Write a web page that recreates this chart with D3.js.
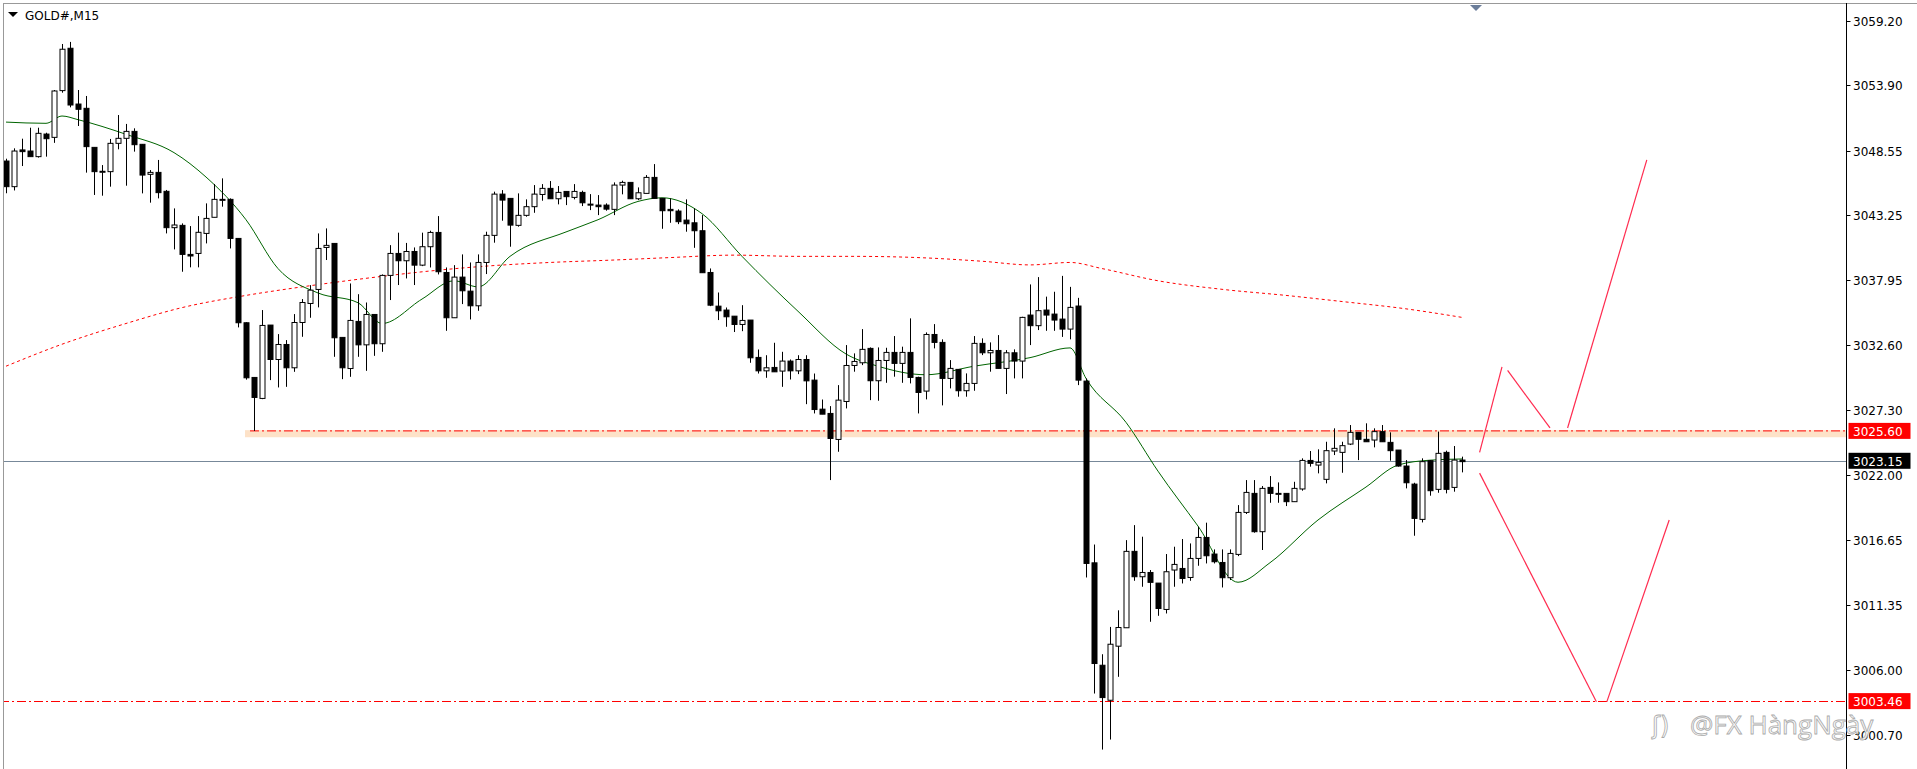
<!DOCTYPE html>
<html><head><meta charset="utf-8">
<script src="https://cdn.jsdelivr.net/npm/d3@7"></script>
<style>html,body{margin:0;padding:0;background:#fff;overflow:hidden}</style>
</head><body><svg id="c" width="1917" height="769"></svg>
<script>
const opens=[3047.71,3045.61,3048.62,3048.53,3048.07,3049.92,3049.65,3053.48,3056.95,3052.38,3052.03,3048.83,3046.87,3046.84,3049.16,3049.57,3050.14,3049.08,3046.62,3046.78,3045.23,3042.25,3042.44,3040.06,3040.14,3041.78,3043.1,3044.57,3044.57,3041.37,3034.46,3029.98,3028.26,3034.27,3031.45,3032.68,3030.77,3034.48,3036.04,3037.19,3040.63,3040.96,3033.26,3030.71,3034.57,3032.65,3035.14,3032.74,3038.34,3040.14,3039.54,3040.3,3039.18,3040.69,3041.86,3038.58,3034.87,3038.2,3037.05,3035.85,3039.4,3041.62,3045.0,3044.65,3042.44,3043.26,3043.97,3044.97,3045.47,3044.62,3045.22,3044.73,3045.14,3044.18,3044.1,3044.1,3043.75,3045.74,3045.96,3044.62,3045.06,3046.37,3044.65,3043.75,3043.61,3042.87,3042.65,3042.0,3038.58,3035.82,3035.5,3035.0,3034.32,3034.68,3031.62,3030.52,3030.8,3030.5,3031.32,3030.52,3031.45,3029.76,3027.38,3027.03,3024.9,3028.01,3030.96,3031.18,3032.36,3029.71,3031.37,3032.03,3031.13,3032.03,3029.98,3028.86,3033.5,3032.85,3029.9,3030.64,3028.89,3029.49,3032.77,3032.0,3032.19,3030.72,3032.0,3031.32,3035.09,3034.22,3035.5,3035.17,3034.76,3033.94,3035.83,3029.68,3014.79,3006.4,3003.53,3007.96,3009.47,3015.73,3013.65,3014.0,3013.13,3010.97,3014.2,3014.33,3013.59,3015.15,3016.87,3015.51,3014.82,3013.57,3015.48,3018.92,3020.48,3017.34,3020.97,3020.48,3020.48,3019.8,3020.84,3023.18,3022.8,3021.63,3023.95,3023.84,3024.52,3025.48,3024.91,3024.85,3025.54,3024.66,3024.03,3022.72,3021.24,3018.35,3023.16,3020.81,3023.84,3020.97,3023.21];
const highs=[3047.9,3048.75,3049.54,3050.44,3050.44,3050.03,3053.53,3057.3,3057.47,3053.53,3053.04,3048.83,3047.38,3049.52,3051.48,3050.75,3050.39,3049.08,3046.97,3047.8,3045.34,3043.83,3042.6,3042.38,3043.2,3044.24,3045.83,3046.29,3044.65,3041.37,3034.5,3030.0,3035.5,3034.27,3033.53,3033.04,3035.17,3036.4,3037.54,3041.78,3042.19,3040.96,3033.26,3037.68,3036.8,3036.12,3035.14,3038.42,3040.82,3041.84,3041.0,3040.63,3041.84,3042.0,3043.2,3038.99,3039.18,3040.06,3039.4,3040.06,3041.92,3045.2,3045.33,3044.65,3045.06,3044.57,3045.74,3045.82,3046.07,3045.66,3045.22,3045.82,3045.28,3045.0,3044.92,3044.24,3045.96,3046.1,3045.96,3045.55,3046.56,3047.46,3044.65,3044.65,3043.75,3044.57,3043.83,3043.28,3038.91,3036.94,3035.71,3035.0,3035.9,3034.68,3032.27,3031.8,3032.82,3032.08,3031.45,3031.8,3031.8,3030.3,3028.17,3027.63,3029.35,3032.63,3031.95,3033.94,3032.44,3032.44,3032.41,3033.37,3032.5,3034.82,3030.04,3033.67,3034.35,3033.1,3031.4,3030.64,3030.31,3033.37,3033.18,3032.85,3033.45,3032.22,3032.28,3034.95,3037.6,3038.2,3036.6,3037.0,3038.3,3037.4,3036.5,3029.9,3016.29,3007.3,3009.54,3010.9,3016.65,3017.88,3016.93,3014.2,3013.13,3015.51,3016.11,3016.74,3016.38,3017.75,3018.08,3015.89,3015.89,3015.89,3019.52,3021.57,3021.57,3021.08,3021.9,3021.38,3020.48,3021.43,3023.35,3023.95,3024.09,3024.71,3025.81,3024.71,3026.08,3025.48,3026.22,3025.81,3026.08,3025.48,3024.03,3023.21,3021.35,3023.35,3023.21,3025.54,3023.98,3024.36,3023.49];
const lows=[3045.07,3045.3,3047.3,3048.07,3047.99,3048.07,3049.2,3053.31,3052.11,3050.58,3046.76,3044.93,3044.87,3045.61,3048.67,3045.69,3048.48,3045.06,3044.3,3044.65,3041.78,3040.47,3038.64,3039.0,3039.0,3040.96,3043.1,3043.97,3040.55,3034.08,3029.8,3025.6,3028.2,3029.76,3029.16,3029.21,3030.44,3033.31,3034.87,3035.72,3039.6,3031.67,3029.84,3030.03,3031.67,3030.52,3031.75,3032.08,3036.32,3037.55,3038.09,3037.55,3039.1,3038.99,3038.42,3033.8,3034.87,3035.99,3034.73,3035.44,3038.45,3041.02,3042.82,3040.69,3042.33,3043.15,3043.47,3044.46,3044.62,3044.16,3044.1,3044.57,3044.02,3043.69,3043.28,3043.64,3043.28,3044.98,3044.62,3044.51,3045.06,3044.65,3042.16,3042.65,3042.54,3041.92,3040.6,3038.56,3035.82,3034.68,3034.13,3033.7,3033.77,3031.18,3030.3,3029.95,3030.44,3029.21,3029.81,3030.25,3027.79,3027.03,3026.97,3021.57,3023.89,3027.44,3030.45,3030.99,3028.12,3028.07,3029.54,3030.04,3029.54,3029.49,3027.03,3028.18,3032.36,3027.69,3029.08,3028.4,3028.4,3028.89,3031.81,3030.45,3030.72,3028.62,3029.9,3029.9,3032.63,3033.86,3033.8,3033.8,3033.3,3033.1,3029.35,3013.59,3004.08,2999.49,3000.31,3005.45,3009.47,3013.32,3012.83,3009.96,3010.45,3010.64,3012.83,3013.1,3013.32,3014.55,3014.74,3014.74,3012.77,3013.38,3015.34,3018.79,3017.26,3015.84,3019.71,3019.71,3019.44,3019.8,3020.7,3022.67,3022.12,3021.3,3023.62,3022.17,3024.44,3023.21,3024.71,3024.25,3024.71,3023.16,3022.67,3020.89,3017.01,3018.1,3020.29,3020.53,3020.48,3020.62,3022.2];
const closes=[3045.61,3048.53,3048.48,3048.07,3049.98,3049.54,3053.45,3056.87,3052.3,3051.95,3048.89,3046.84,3046.87,3049.16,3049.57,3050.14,3049.05,3046.56,3046.78,3045.12,3042.25,3042.47,3040.06,3039.93,3041.87,3043.01,3044.57,3044.57,3041.37,3034.46,3029.95,3028.34,3034.24,3031.45,3032.68,3030.77,3034.48,3036.12,3037.13,3040.55,3040.8,3033.23,3030.77,3034.65,3032.65,3035.14,3032.74,3038.34,3040.14,3039.54,3040.3,3039.18,3040.69,3041.86,3038.64,3034.87,3038.2,3037.08,3035.85,3039.4,3041.62,3045.0,3044.51,3042.46,3043.26,3043.97,3045.0,3045.47,3044.62,3045.14,3044.79,3045.22,3044.29,3044.1,3043.97,3043.77,3045.74,3045.96,3044.62,3045.11,3046.37,3044.65,3043.64,3043.64,3042.74,3042.57,3042.0,3038.56,3035.9,3035.44,3034.95,3034.32,3034.65,3031.59,3030.52,3030.77,3030.44,3031.32,3030.52,3031.45,3029.7,3027.35,3026.97,3024.98,3028.12,3030.96,3031.29,3032.28,3029.71,3031.37,3032.03,3031.13,3032.03,3029.98,3028.75,3033.5,3032.85,3029.9,3030.72,3028.89,3029.49,3032.77,3032.0,3032.19,3030.72,3032.0,3031.32,3034.9,3034.22,3035.45,3035.09,3034.68,3033.94,3035.72,3029.76,3014.74,3006.54,3003.75,3008.12,3009.49,3015.73,3013.65,3014.0,3013.19,3011.05,3014.06,3014.66,3013.51,3015.15,3016.87,3015.37,3014.88,3013.57,3015.56,3018.92,3020.56,3017.34,3020.89,3020.48,3020.48,3019.8,3020.89,3023.18,3022.94,3023.02,3023.98,3024.17,3024.39,3025.48,3024.91,3024.71,3025.54,3024.71,3023.98,3022.72,3021.35,3018.43,3023.08,3020.7,3023.76,3020.81,3023.21,3023.08];
const maFastIdx=[0,5,7,9,15,21,25,30,34,39,44,47,52,56,59,63,70,74,79,82,87,92,99,105,109,115,121,128,133,135,140,144,149,154,158,164,170,174,178,182];
const maFastVal=[3050.9,3050.8,3051.4,3051.1,3049.9,3048.4,3046.4,3042.9,3038.9,3036.9,3036.1,3034.4,3036.4,3037.9,3037.4,3039.9,3041.9,3042.9,3044.4,3044.7,3043.4,3039.9,3035.4,3031.9,3030.9,3030.2,3030.9,3031.6,3032.4,3029.9,3026.3,3022.3,3017.8,3013.2,3014.8,3018.3,3021.0,3022.8,3023.2,3023.3];
const maSlowIdx=[0,7,15,22,30,37,45,53,60,68,76,83,91,99,106,114,122,128,133,137,144,152,160,167,175,182];
const maSlowVal=[3030.9,3032.7,3034.4,3035.7,3036.7,3037.4,3038.1,3038.7,3039.1,3039.4,3039.6,3039.8,3040.0,3039.9,3039.9,3039.8,3039.5,3039.2,3039.4,3038.9,3037.9,3037.2,3036.7,3036.2,3035.6,3034.9];
const tickLabels=["3059.20","3053.90","3048.55","3043.25","3037.95","3032.60","3027.30","3022.00","3016.65","3011.35","3006.00","3000.70"];
const levelResist=3025.60, levelSupport=3003.46, lastPrice=3023.15;
const upPathIdx=[[184.2,187.0],[187.7,193.0],[195.2,205.1]];
const upPathVal=[[3023.84,3030.85],[3030.55,3025.84],[3025.84,3047.8]];
const dnPathIdx=[[184.2,198.8],[200.1,207.9]];
const dnPathVal=[[3022.14,3003.4],[3003.4,3018.3]];

const svg=d3.select("#c");
const axisX=1846.5;
const x=d3.scaleLinear().domain([0,182]).range([6,1462]);
const y=d3.scaleLinear().domain([3000.70,3059.20]).range([734.8,20.8]);
const clip=svg.append("defs").append("clipPath").attr("id","cl").append("rect").attr("x",4).attr("y",4).attr("width",axisX-4).attr("height",765);
const g=svg.append("g").attr("clip-path","url(#cl)");

// band + levels
g.append("rect").attr("x",245).attr("width",axisX-245).attr("y",y(3025.66)).attr("height",y(3025.08)-y(3025.66)).attr("fill","#fde2c8");
g.append("line").attr("x1",250).attr("x2",axisX).attr("y1",y(levelResist)).attr("y2",y(levelResist)).attr("stroke","#ff0000").attr("stroke-dasharray","9,3,2,3");
g.append("line").attr("x1",0).attr("x2",axisX).attr("y1",Math.round(y(levelSupport))+0.5).attr("y2",Math.round(y(levelSupport))+0.5).attr("stroke","#ff0000").attr("stroke-dasharray","9,3,2,3");
g.append("line").attr("x1",0).attr("x2",axisX).attr("y1",Math.round(y(lastPrice))+0.5).attr("y2",Math.round(y(lastPrice))+0.5).attr("stroke","#778899");

// MAs
const line=d3.line().x(d=>x(d[0])).y(d=>y(d[1])).curve(d3.curveMonotoneX);
g.append("path").attr("d",line(maSlowIdx.map((d,i)=>[d,maSlowVal[i]]))).attr("fill","none").attr("stroke","#ff0000").attr("stroke-dasharray","3,3");
g.append("path").attr("d",line(maFastIdx.map((d,i)=>[d,maFastVal[i]]))).attr("fill","none").attr("stroke","#006400");

// candles
const data=opens.map((o,i)=>({i,o,h:highs[i],l:lows[i],c:closes[i]}));
const cg=g.selectAll("g.k").data(data).join("g");
cg.append("line").attr("x1",d=>Math.round(x(d.i))+0.5).attr("x2",d=>Math.round(x(d.i))+0.5)
 .attr("y1",d=>y(d.h)).attr("y2",d=>y(d.l)).attr("stroke","#000");
cg.append("rect").attr("x",d=>Math.round(x(d.i))-2).attr("width",5)
 .attr("y",d=>y(Math.max(d.o,d.c))).attr("height",d=>Math.max(1,Math.abs(y(d.o)-y(d.c))))
 .attr("fill",d=>d.c>=d.o?"#fff":"#000").attr("stroke","#000");

// zigzag annotations
upPathIdx.concat(dnPathIdx).forEach((p,k)=>{
  const v=upPathVal.concat(dnPathVal)[k];
  g.append("line").attr("x1",x(p[0])).attr("x2",x(p[1])).attr("y1",y(v[0])).attr("y2",y(v[1])).attr("stroke","#ff2b4f").attr("stroke-width",1.2);
});

// frame
svg.append("line").attr("x1",3.5).attr("x2",3.5).attr("y1",3).attr("y2",769).attr("stroke","#999");
svg.append("line").attr("x1",3).attr("x2",1917).attr("y1",3.5).attr("y2",3.5).attr("stroke","#999");
svg.append("line").attr("x1",axisX).attr("x2",axisX).attr("y1",3).attr("y2",769).attr("stroke","#000");
svg.append("path").attr("d","M1470,5 L1482,5 L1476,11 Z").attr("fill","#6b7d99");

// title
svg.append("path").attr("d","M8,12 L18,12 L13,17 Z").attr("fill","#000");
svg.append("text").attr("x",25).attr("y",20).text("GOLD#,M15").attr("font-family","DejaVu Sans, sans-serif").attr("font-size",12).attr("fill","#000");

// axis ticks
tickLabels.forEach(t=>{
  const yy=Math.round(y(+t))+0.5;
  svg.append("line").attr("x1",axisX).attr("x2",axisX+4).attr("y1",yy).attr("y2",yy).attr("stroke","#000");
  svg.append("text").attr("x",1853).attr("y",yy+4).text(t).attr("font-family","DejaVu Sans, sans-serif").attr("font-size",12).attr("fill","#000");
});
[[levelResist,"#ff0000"],[lastPrice,"#000"],[levelSupport,"#ff0000"]].forEach(([v,col])=>{
  const yy=y(v);
  svg.append("rect").attr("x",axisX+2).attr("y",yy-8).attr("width",62).attr("height",16).attr("fill",col);
  svg.append("text").attr("x",1853).attr("y",yy+5).text(v.toFixed(2)).attr("font-family","DejaVu Sans, sans-serif").attr("font-size",12).attr("fill","#fff");
});

// watermark
svg.append("text").attr("x",1652).attr("y",734).text("ʃ)").attr("font-family","DejaVu Sans, sans-serif").attr("font-size",24).attr("fill","#fff").attr("stroke","#aaa").attr("stroke-width",0.8);
svg.append("text").attr("x",1690).attr("y",734).text("@FX HàngNgày").attr("font-family","Open Sans, sans-serif").attr("font-size",26).attr("fill","#fafafa").attr("stroke","#aaa").attr("stroke-width",0.8);
</script></body></html>
